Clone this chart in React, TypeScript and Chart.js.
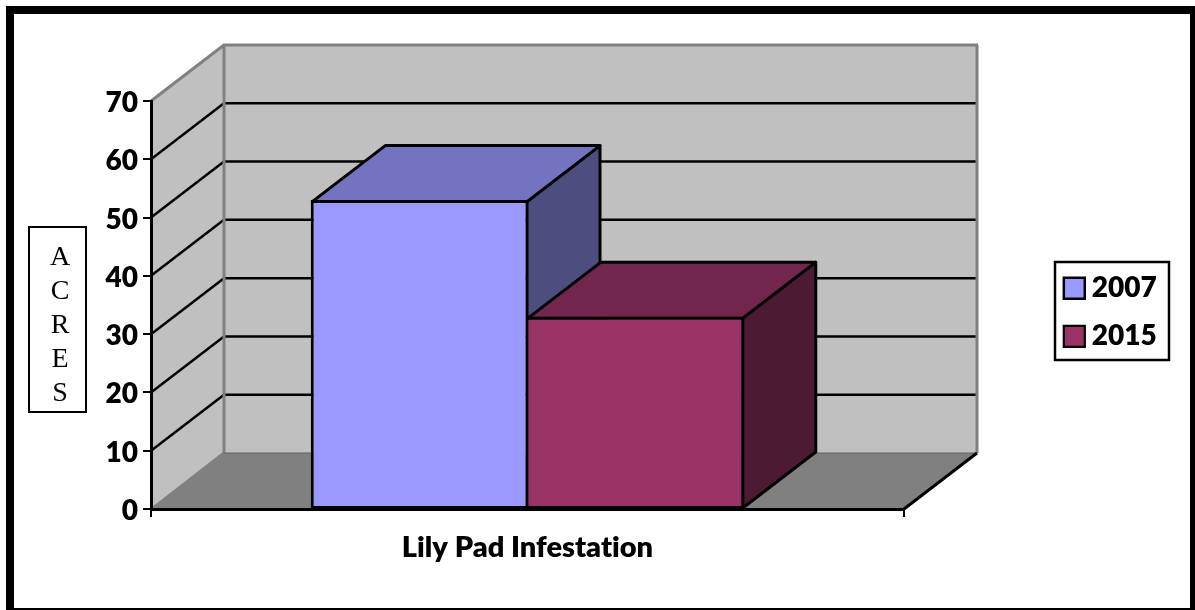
import React, { useEffect, useRef } from "react";
import { Chart, registerables } from "chart.js";

Chart.register(...registerables);

const categories = ["Lily Pad Infestation"];
const seriesNames = ["2007", "2015"];
const values2007 = [53];
const values2015 = [33];
const frontColors = ["#9999FF", "#993366"];
const topColors = ["#7373BF", "#73264D"];
const sideColors = ["#4D4D80", "#4D1A33"];
const yAxisLetters = ["A", "C", "R", "E", "S"];
const yMin = 0;
const yMax = 70;
const yStep = 10;

const DX = 73;
const DY = -56;
const LABEL_FONT = { family: "Lato", weight: "800", size: 28, lineHeight: 32 / 28 };
const TITLE_FONT = { family: "Lato", weight: "800", size: 29, lineHeight: 1.1 };

function poly(ctx: CanvasRenderingContext2D, pts: number[][], fill?: string, stroke?: string, lw = 2) {
  ctx.beginPath();
  pts.forEach((p, i) => (i ? ctx.lineTo(p[0], p[1]) : ctx.moveTo(p[0], p[1])));
  ctx.closePath();
  if (fill) {
    ctx.fillStyle = fill;
    ctx.fill();
  }
  if (stroke) {
    ctx.strokeStyle = stroke;
    ctx.lineWidth = lw;
    ctx.lineJoin = "round";
    ctx.stroke();
  }
}

function seg(ctx: CanvasRenderingContext2D, a: number[], b: number[], color: string, lw: number) {
  ctx.beginPath();
  ctx.moveTo(a[0], a[1]);
  ctx.lineTo(b[0], b[1]);
  ctx.strokeStyle = color;
  ctx.lineWidth = lw;
  ctx.stroke();
}

const box3d = {
  id: "box3d",
  beforeLayout(chart: any) {
    const l = chart.legend;
    if (l && !l.__patched) {
      const fit = l.fit.bind(l);
      l.fit = () => {
        fit();
        l.width = 291;
      };
      l.__patched = true;
    }
  },
  beforeDraw(chart: any) {
    const ctx: any = chart.ctx;
    const { left, right, top, bottom } = chart.chartArea;
    const w = chart.width;
    const h = chart.height;

    ctx.textRendering = "optimizeSpeed";
    ctx.save();
    // outer frame
    ctx.fillStyle = "#FFFFFF";
    ctx.fillRect(0, 0, w, h);
    ctx.fillStyle = "#000000";
    ctx.fillRect(6, 6, w - 6, h - 6);
    ctx.fillStyle = "#FFFFFF";
    ctx.fillRect(14, 14, 1176, 594);

    // walls and floor
    poly(ctx, [[left, top], [left + DX, top + DY], [left + DX, bottom + DY], [left, bottom]], "#C0C0C0");
    poly(ctx, [[left + DX, top + DY], [right + DX, top + DY], [right + DX, bottom + DY], [left + DX, bottom + DY]], "#C0C0C0");
    poly(ctx, [[left, bottom], [left + DX, bottom + DY], [right + DX, bottom + DY], [right, bottom]], "#808080");

    // gridlines on the walls
    const y = chart.scales.y;
    y.ticks.forEach((t: any) => {
      if (t.value === yMin || t.value === yMax) return;
      const py = y.getPixelForValue(t.value);
      seg(ctx, [left, py], [left + DX, py + DY], "#000000", 2.5);
      seg(ctx, [left + DX, py + DY], [right + DX, py + DY], "#000000", 2.5);
    });

    // grey wall edges
    seg(ctx, [left + DX, top + DY], [left + DX, bottom + DY], "#808080", 3);
    seg(ctx, [left, top], [left + DX, top + DY], "#808080", 3);
    seg(ctx, [left + DX - 1, top + DY], [right + DX + 1, top + DY], "#808080", 3);
    seg(ctx, [right + DX, top + DY], [right + DX, bottom + DY], "#808080", 3);
    seg(ctx, [left + 1, bottom], [left + DX, bottom + DY], "#808080", 3);
    seg(ctx, [left + DX, bottom + DY], [right + DX, bottom + DY], "#606060", 1);
    seg(ctx, [right, bottom], [right + DX, bottom + DY], "#000000", 3);

    // position the library's legend
    const lg = chart.legend;
    lg.left = 1050.8;
    lg.right = 1169;
    lg.top = 254.3;
    lg.bottom = 420;
    lg.width = 118;
    lg.height = 166;
    ctx.restore();
  },
  beforeDatasetsDraw(chart: any) {
    const ctx: CanvasRenderingContext2D = chart.ctx;
    ctx.save();
    chart.data.datasets.forEach((_: any, i: number) => {
      const bar = chart.getDatasetMeta(i).data[0];
      const half = bar.width / 2;
      const l = bar.x - half + (i === 0 ? 1.5 : 0.5);
      const r = bar.x + half - (i === 0 ? 0.5 : 1.5);
      const t = bar.y + 1.5;
      const b = bar.base;
      poly(ctx, [[r, t], [r + DX, t + DY], [r + DX, b + DY], [r, b]], sideColors[i], "#000000", 3);
      poly(ctx, [[l, t], [l + DX, t + DY], [r + DX, t + DY], [r, t]], topColors[i], "#000000", 3);
    });
    ctx.restore();
  },
  afterDraw(chart: any) {
    const ctx: CanvasRenderingContext2D = chart.ctx;
    ctx.save();
    // y-axis caption box
    ctx.strokeStyle = "#000000";
    ctx.lineWidth = 2;
    ctx.strokeRect(29, 227, 57, 185);
    ctx.fillStyle = "#000000";
    ctx.font = "28px 'Liberation Serif'";
    ctx.textAlign = "center";
    ctx.textBaseline = "alphabetic";
    yAxisLetters.forEach((c, i) => ctx.fillText(c, 60, 265 + i * 34));
    // legend box
    ctx.lineWidth = 2.5;
    ctx.strokeRect(1055, 262, 114, 98);
    ctx.restore();
  },
};

export default function App() {
  const ref = useRef<HTMLCanvasElement | null>(null);
  useEffect(() => {
    const chart = new Chart(ref.current as HTMLCanvasElement, {
      type: "bar",
      data: {
        labels: categories,
        datasets: [
          { label: seriesNames[0], data: values2007, backgroundColor: frontColors[0], borderColor: "#000000", borderWidth: { top: 3, left: 3, right: 2, bottom: 2 }, borderSkipped: false },
          { label: seriesNames[1], data: values2015, backgroundColor: frontColors[1], borderColor: "#000000", borderWidth: { top: 3, left: 1, right: 3, bottom: 2 }, borderSkipped: false },
        ],
      },
      options: {
        responsive: false,
        animation: false,
        devicePixelRatio: 1,
        layout: { padding: { top: 101, left: 0, right: 0, bottom: 0 } },
        datasets: { bar: { categoryPercentage: 433.5 / 753, barPercentage: 1 } },
        scales: {
          x: {
            offset: true,
            grid: { offset: true, drawOnChartArea: false, drawTicks: true, tickLength: 8, color: "#000000", tickColor: "#000000", lineWidth: 2, tickWidth: 2 },
            border: { display: true, color: "#000000", width: 3 },
            ticks: { display: false },
            title: { display: true, text: categories[0], color: "#000000", font: TITLE_FONT, padding: { top: 0, bottom: 46 } },
            afterFit(s: any) {
              s.height = 101;
            },
          },
          y: {
            min: yMin,
            max: yMax,
            ticks: { stepSize: yStep, color: "#000000", font: LABEL_FONT, padding: 5, labelOffset: 2 },
            grid: { drawOnChartArea: false, drawTicks: true, tickLength: 8, color: "#000000", tickColor: "#000000", lineWidth: 2, tickWidth: 2 },
            border: { display: true, color: "#000000", width: 3 },
            afterFit(s: any) {
              s.width = 151;
            },
          },
        },
        plugins: {
          tooltip: { enabled: false },
          title: { display: false },
          legend: {
            display: true,
            position: "right",
            align: "start",
            labels: {
              usePointStyle: true,
              pointStyle: "rect",
              boxWidth: 7,
              boxHeight: 21,
              padding: 20,
              color: "#000000",
              font: LABEL_FONT,
            },
          },
        },
      } as any,
      plugins: [box3d as any],
    });
    return () => chart.destroy();
  }, []);
  return (
    <div style={{ position: "absolute", left: 0, top: 0, width: 1195, height: 610, background: "#fff" }}>
      <canvas ref={ref} width={1195} height={610} style={{ display: "block" }} />
    </div>
  );
}
